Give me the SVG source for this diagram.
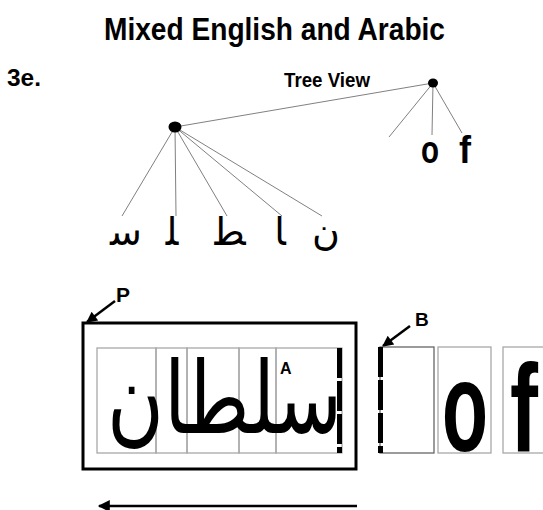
<svg xmlns="http://www.w3.org/2000/svg" width="543" height="510" viewBox="0 0 543 510">
<defs>
<style>
.t{font-family:"Liberation Sans",Arial,sans-serif;font-weight:bold;fill:#000}
.ar{font-family:"DejaVu Sans","Noto Sans",sans-serif;fill:#000}
.tree{stroke:#808080;stroke-width:1;fill:none}
.cell{fill:none;stroke:#a8a8a8;stroke-width:1.3}
.bar{stroke:#000;stroke-width:5;stroke-dasharray:30 3;fill:none}
.arr{stroke:#000;stroke-width:2.5;fill:none}
</style>
<marker id="ah" viewBox="0 0 10 10" refX="9" refY="5" markerWidth="13" markerHeight="11" markerUnits="userSpaceOnUse" orient="auto">
<path d="M0,0 L10,5 L0,10 Z" fill="#000"/>
</marker>
<marker id="ahb" viewBox="0 0 10 10" refX="9" refY="5" markerWidth="16" markerHeight="12" markerUnits="userSpaceOnUse" orient="auto">
<path d="M0,0 L10,5 L0,10 Z" fill="#000"/>
</marker>
</defs>
<rect width="543" height="510" fill="#fff"/>
<text class="t" x="274.5" y="40" font-size="32" text-anchor="middle" textLength="341" lengthAdjust="spacingAndGlyphs">Mixed English and Arabic</text>
<text class="t" x="7" y="86" font-size="24" textLength="34" lengthAdjust="spacingAndGlyphs">3e.</text>
<text class="t" x="284" y="87" font-size="20" textLength="86" lengthAdjust="spacingAndGlyphs">Tree View</text>

<g id="connectors">
<line class="tree" x1="433" y1="83" x2="175" y2="127"/>
<line class="tree" x1="433" y1="83" x2="389" y2="137"/>
<line class="tree" x1="433" y1="83" x2="432" y2="135"/>
<line class="tree" x1="433" y1="83" x2="462" y2="133"/>
<line class="tree" x1="175" y1="127" x2="122" y2="216"/>
<line class="tree" x1="175" y1="127" x2="176" y2="216"/>
<line class="tree" x1="175" y1="127" x2="227" y2="216"/>
<line class="tree" x1="175" y1="127" x2="282" y2="216"/>
<line class="tree" x1="175" y1="127" x2="322" y2="216"/>
<line class="arr" x1="115" y1="301" x2="87" y2="322" marker-end="url(#ah)"/>
<line class="arr" x1="410" y1="326" x2="383" y2="346" marker-end="url(#ah)"/>
<line class="arr" x1="357" y1="506" x2="99" y2="506" marker-end="url(#ahb)"/>
</g>

<g id="root"><ellipse cx="433" cy="83" rx="5" ry="4.5" fill="#000"/></g>
<g id="arabic-node"><ellipse cx="175" cy="127" rx="6.5" ry="5.5" fill="#000"/></g>
<g id="leaf-o"><text class="t" x="430" y="163" font-size="38" text-anchor="middle" textLength="18" lengthAdjust="spacingAndGlyphs">o</text></g>
<g id="leaf-f"><text class="t" x="465" y="163" font-size="38" text-anchor="middle" textLength="12" lengthAdjust="spacingAndGlyphs">f</text></g>
<g id="leaf-seen"><text class="ar" x="126" y="245" font-size="38" text-anchor="middle">&#xFEB3;</text></g>
<g id="leaf-lam"><text class="ar" x="172" y="245" font-size="38" text-anchor="middle">&#xFEE0;</text></g>
<g id="leaf-tah"><text class="ar" x="230" y="245" font-size="38" text-anchor="middle">&#xFEC4;</text></g>
<g id="leaf-alef"><text class="ar" x="280" y="245" font-size="38" text-anchor="middle">&#xFE8E;</text></g>
<g id="leaf-noon"><text class="ar" x="326" y="245" font-size="38" text-anchor="middle">&#xFEE5;</text></g>

<g id="paragraph-P">
<rect x="83" y="323" width="273" height="146" fill="none" stroke="#000" stroke-width="3"/>
<rect class="cell" x="97" y="348" width="59" height="105"/>
<rect class="cell" x="156" y="348" width="31" height="105"/>
<rect class="cell" x="187" y="348" width="52" height="105"/>
<rect class="cell" x="239" y="348" width="37" height="105"/>
<rect class="cell" x="276" y="348" width="66" height="105"/>
<text class="ar" x="224.5" y="433" font-size="100" text-anchor="middle" textLength="235" lengthAdjust="spacingAndGlyphs">سلطان</text>
<line class="bar" x1="339.5" y1="348" x2="339.5" y2="453"/>
<text class="t" x="280" y="374" font-size="16">A</text>
<text class="t" x="116" y="302" font-size="21">P</text>
</g>

<g id="english-B">
<rect x="380" y="347" width="54" height="106" fill="none" stroke="#666" stroke-width="1.3"/>
<rect class="cell" x="438" y="347" width="53" height="106"/>
<rect class="cell" x="503" y="347" width="50" height="106"/>
<line class="bar" x1="380.5" y1="347" x2="380.5" y2="453"/>
<text class="t" x="465" y="451" font-size="128" text-anchor="middle" textLength="46" lengthAdjust="spacingAndGlyphs">o</text>
<text class="t" x="524" y="451" font-size="124" text-anchor="middle" textLength="28" lengthAdjust="spacingAndGlyphs">f</text>
<text class="t" x="415" y="326" font-size="19">B</text>
</g>
</svg>
